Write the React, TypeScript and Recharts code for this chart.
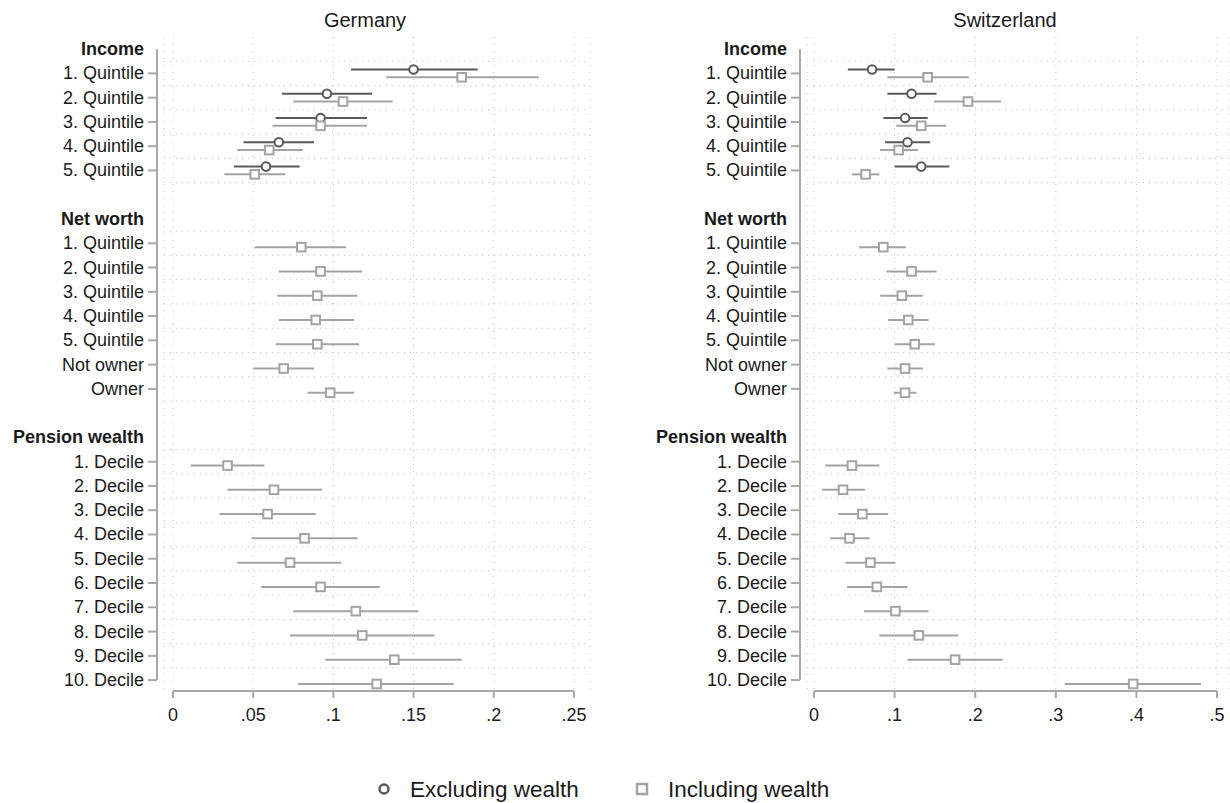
import React from "react";
import {
  ScatterChart,
  Scatter,
  XAxis,
  YAxis,
  CartesianGrid,
  ReferenceLine,
  ErrorBar,
} from "recharts";

// row labels, top to bottom ("" = spacer row)
const rowLabels = [
  "Income",
  "1. Quintile",
  "2. Quintile",
  "3. Quintile",
  "4. Quintile",
  "5. Quintile",
  "",
  "Net worth",
  "1. Quintile",
  "2. Quintile",
  "3. Quintile",
  "4. Quintile",
  "5. Quintile",
  "Not owner",
  "Owner",
  "",
  "Pension wealth",
  "1. Decile",
  "2. Decile",
  "3. Decile",
  "4. Decile",
  "5. Decile",
  "6. Decile",
  "7. Decile",
  "8. Decile",
  "9. Decile",
  "10. Decile",
];
const headers = ["Income", "Net worth", "Pension wealth"];

// Germany
const deExclEst = [0.15, 0.096, 0.092, 0.066, 0.058];
const deExclLo = [0.111, 0.068, 0.064, 0.044, 0.038];
const deExclHi = [0.19, 0.124, 0.121, 0.088, 0.079];
const deInclEst = [0.18, 0.106, 0.092, 0.06, 0.051, 0.08, 0.092, 0.09, 0.089, 0.09, 0.069, 0.098, 0.034, 0.063, 0.059, 0.082, 0.073, 0.092, 0.114, 0.118, 0.138, 0.127];
const deInclLo = [0.133, 0.075, 0.062, 0.04, 0.032, 0.051, 0.066, 0.065, 0.066, 0.064, 0.05, 0.084, 0.011, 0.034, 0.029, 0.049, 0.04, 0.055, 0.075, 0.073, 0.095, 0.078];
const deInclHi = [0.228, 0.137, 0.121, 0.081, 0.07, 0.108, 0.118, 0.115, 0.113, 0.116, 0.088, 0.113, 0.057, 0.093, 0.089, 0.115, 0.105, 0.129, 0.153, 0.163, 0.18, 0.175];

// Switzerland
const chExclEst = [0.072, 0.121, 0.113, 0.116, 0.133];
const chExclLo = [0.042, 0.091, 0.086, 0.088, 0.1];
const chExclHi = [0.1, 0.152, 0.141, 0.144, 0.168];
const chInclEst = [0.141, 0.191, 0.133, 0.105, 0.064, 0.086, 0.121, 0.109, 0.117, 0.125, 0.113, 0.113, 0.047, 0.036, 0.06, 0.044, 0.07, 0.078, 0.101, 0.13, 0.175, 0.396];
const chInclLo = [0.091, 0.149, 0.102, 0.082, 0.047, 0.056, 0.09, 0.082, 0.092, 0.1, 0.091, 0.099, 0.014, 0.01, 0.03, 0.02, 0.039, 0.041, 0.062, 0.081, 0.116, 0.311];
const chInclHi = [0.192, 0.232, 0.164, 0.129, 0.081, 0.114, 0.152, 0.135, 0.142, 0.15, 0.135, 0.127, 0.081, 0.063, 0.092, 0.069, 0.101, 0.116, 0.142, 0.179, 0.234, 0.48];

const deTicks = [0, 0.05, 0.1, 0.15, 0.2, 0.25];
const chTicks = [0, 0.1, 0.2, 0.3, 0.4, 0.5];

const DARK = "#595959";
const LIGHT = "#a3a3a3";
const AXIS = "#a8a8a8";
const GRID = "#c4c4c4";
const FONT = "'Liberation Sans', Arial, sans-serif";

const itemRows = rowLabels
  .map((l, i) => (l && !headers.includes(l) ? i : -1))
  .filter((i) => i >= 0);
const tickRows = rowLabels.map((l, i) => (l ? i : -1)).filter((i) => i >= 0);
const separators = rowLabels
  .map((l, i) => (l && i < rowLabels.length - 1 ? i + 0.5 : -1))
  .filter((v) => v >= 0);
const Y_MIN = -0.5;
const Y_MAX = rowLabels.length - 1 + 0.45;

function buildSeries(est: number[], lo: number[], hi: number[], shift: number) {
  return est.map((v, k) => ({
    x: v,
    y: itemRows[k] + shift,
    err: [v - lo[k], hi[k] - v],
  }));
}

const fmt = (v: number) => (v === 0 ? "0" : String(v).replace(/^0/, ""));

function RowTick(props: any) {
  const { x, y, payload } = props;
  const label = rowLabels[payload.value];
  const isHeader = headers.includes(label);
  const axisX = x - 7;
  return (
    <g>
      {!isHeader && (
        <line x1={axisX - 9} x2={axisX} y1={y} y2={y} stroke={AXIS} strokeWidth={2} />
      )}
      <text
        x={axisX - 13}
        y={y}
        textAnchor="end"
        dominantBaseline="central"
        fontSize={18}
        fontFamily={FONT}
        fontWeight={isHeader ? "bold" : "normal"}
        fill="#1a1a1a"
      >
        {label}
      </text>
    </g>
  );
}

const CircleMark = (p: any) => (
  <circle cx={p.cx} cy={p.cy} r={4.3} fill="#fff" stroke={DARK} strokeWidth={2} />
);
const SquareMark = (p: any) => (
  <rect x={p.cx - 4.3} y={p.cy - 4.3} width={8.6} height={8.6} fill="#fff" stroke={LIGHT} strokeWidth={2} />
);

interface PanelProps {
  title: string;
  titleCenter: number;
  left: number;
  yAxisWidth: number;
  rightMargin: number;
  xDomain: [number, number];
  xTicks: number[];
  yAxisAt: number;
  excl: any[];
  incl: any[];
}

function Panel({ title, titleCenter, left, yAxisWidth, rightMargin, xDomain, xTicks, yAxisAt, excl, incl }: PanelProps) {
  return (
    <>
      <div
        style={{
          position: "absolute",
          left: titleCenter,
          top: 8,
          transform: "translateX(-50%)",
          fontSize: 20,
          lineHeight: "24px",
          color: "#1a1a1a",
          fontFamily: FONT,
        }}
      >
        {title}
      </div>
      <div style={{ position: "absolute", left, top: 0 }}>
        <ScatterChart width={615} height={740} margin={{ top: 37, right: rightMargin, bottom: 19, left: 0 }}>
          <CartesianGrid horizontal={false} stroke={GRID} strokeDasharray="1 6" />
          {separators.map((s) => (
            <ReferenceLine key={s} y={s} stroke={GRID} strokeDasharray="1 5" />
          ))}
          <XAxis
            type="number"
            dataKey="x"
            domain={xDomain}
            allowDataOverflow
            ticks={xTicks}
            interval={0}
            tickFormatter={fmt}
            axisLine={false}
            tickLine={{ stroke: AXIS, strokeWidth: 2 }}
            tickSize={7}
            tickMargin={10}
            tick={{ fontSize: 18, fill: "#1a1a1a", fontFamily: FONT }}
          />
          <YAxis
            type="number"
            dataKey="y"
            domain={[Y_MIN, Y_MAX]}
            reversed
            allowDataOverflow
            ticks={tickRows}
            interval={0}
            width={yAxisWidth}
            axisLine={false}
            tickLine={false}
            tickSize={0}
            tickMargin={0}
            tick={<RowTick />}
          />
          <ReferenceLine
            segment={[
              { x: xTicks[0], y: Y_MAX },
              { x: xTicks[xTicks.length - 1], y: Y_MAX },
            ]}
            stroke={AXIS}
            strokeWidth={2}
            ifOverflow="visible"
          />
          <ReferenceLine
            segment={[
              { x: yAxisAt, y: 0 },
              { x: yAxisAt, y: rowLabels.length - 1 },
            ]}
            stroke={AXIS}
            strokeWidth={2}
            ifOverflow="visible"
          />
          <Scatter data={excl} shape={<CircleMark />} isAnimationActive={false}>
            <ErrorBar dataKey="err" direction="x" width={0} stroke={DARK} strokeWidth={2} isAnimationActive={false} />
          </Scatter>
          <Scatter data={incl} shape={<SquareMark />} isAnimationActive={false}>
            <ErrorBar dataKey="err" direction="x" width={0} stroke={LIGHT} strokeWidth={2} isAnimationActive={false} />
          </Scatter>
        </ScatterChart>
      </div>
    </>
  );
}

export default function App() {
  const deExcl = buildSeries(deExclEst, deExclLo, deExclHi, -0.16);
  const deIncl = buildSeries(deInclEst, deInclLo, deInclHi, 0.16);
  const chExcl = buildSeries(chExclEst, chExclLo, chExclHi, -0.16);
  const chIncl = buildSeries(chInclEst, chInclLo, chInclHi, 0.16);

  return (
    <div
      style={{
        position: "absolute",
        left: 0,
        top: 0,
        width: 1230,
        height: 803,
        background: "#fff",
        fontFamily: FONT,
        overflow: "hidden",
      }}
    >
      <Panel
        title="Germany"
        titleCenter={365}
        left={0}
        yAxisWidth={164}
        rightMargin={25}
        xDomain={[-0.0056, 0.26]}
        xTicks={deTicks}
        yAxisAt={-0.00998}
        excl={deExcl}
        incl={deIncl}
      />
      <Panel
        title="Switzerland"
        titleCenter={1005}
        left={615}
        yAxisWidth={192}
        rightMargin={0}
        xDomain={[-0.0087, 0.5161]}
        xTicks={chTicks}
        yAxisAt={-0.0174}
        excl={chExcl}
        incl={chIncl}
      />
      <svg width={1230} height={30} style={{ position: "absolute", left: 0, top: 772 }}>
        <circle cx={384} cy={17} r={4.5} fill="#fff" stroke={DARK} strokeWidth={2.5} />
        <text x={410} y={17} dominantBaseline="central" fontSize={22.5} fontFamily={FONT} fill="#1a1a1a">
          Excluding wealth
        </text>
        <rect x={637} y={12} width={10} height={10} fill="#fff" stroke={LIGHT} strokeWidth={2.5} />
        <text x={668} y={17} dominantBaseline="central" fontSize={22.5} fontFamily={FONT} fill="#1a1a1a">
          Including wealth
        </text>
      </svg>
    </div>
  );
}
